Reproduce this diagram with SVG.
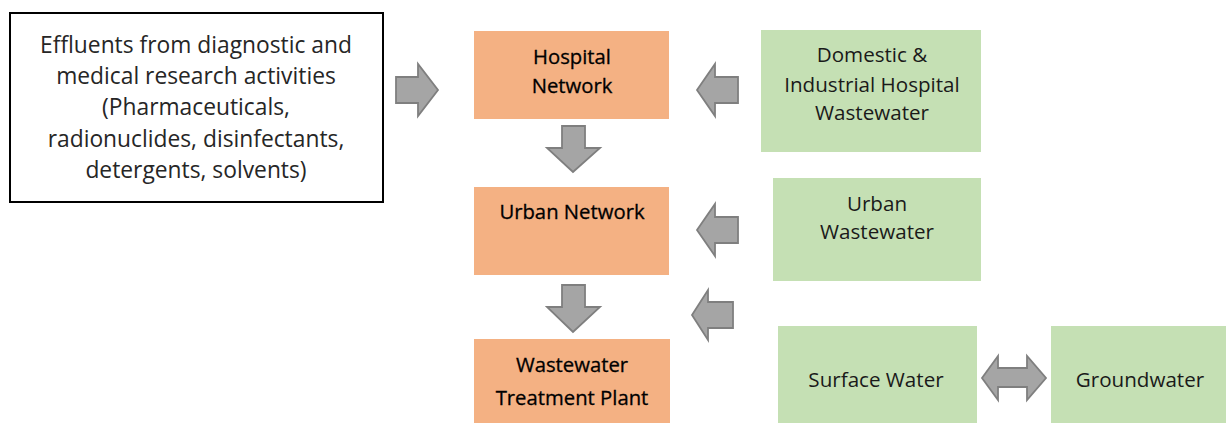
<svg xmlns="http://www.w3.org/2000/svg" width="1226" height="423" viewBox="0 0 1226 423">
  <style>
    .src { fill: #ffffff; stroke: #000000; stroke-width: 2; }
    .net { fill: #F4B183; }
    .ww { fill: #C5E0B4; }
    text { font-family: "Open Sans", "Liberation Sans", sans-serif; text-anchor: middle; }
    .t-src { font-size: 22.8px; fill: #262626; }
    .t-net { font-size: 20.3px; fill: #000000; stroke: #000000; stroke-width: 0.3; }
    .t-ww { font-size: 20.6px; fill: #1a1a1a; }
    .blk { fill: #A5A5A5; stroke: #7F7F7F; stroke-width: 1.8; stroke-linejoin: miter; }
  </style>
  <rect width="1226" height="423" fill="#ffffff"/>

  <g id="effluents">
    <rect class="src" x="10" y="13" width="373" height="189"/>
    <text class="t-src" x="196" y="53">Effluents from diagnostic and</text>
    <text class="t-src" x="196" y="84">medical research activities</text>
    <text class="t-src" x="196" y="115">(Pharmaceuticals,</text>
    <text class="t-src" x="196" y="147">radionuclides, disinfectants,</text>
    <text class="t-src" x="196" y="178">detergents, solvents)</text>
  </g>

  <g id="hospital-network">
    <rect class="net" x="474" y="31" width="195" height="88"/>
    <text class="t-net" x="572" y="64">Hospital</text>
    <text class="t-net" x="572" y="93">Network</text>
  </g>

  <g id="urban-network">
    <rect class="net" x="474" y="187" width="195" height="88"/>
    <text class="t-net" x="572" y="219">Urban Network</text>
  </g>

  <g id="treatment-plant">
    <rect class="net" x="474" y="339" width="196" height="84"/>
    <text class="t-net" x="572" y="372">Wastewater</text>
    <text class="t-net" x="572" y="405">Treatment Plant</text>
  </g>

  <g id="domestic-industrial">
    <rect class="ww" x="761" y="30" width="220" height="122"/>
    <text class="t-ww" x="872" y="62">Domestic &amp;</text>
    <text class="t-ww" x="872" y="92">Industrial Hospital</text>
    <text class="t-ww" x="872" y="120">Wastewater</text>
  </g>

  <g id="urban-wastewater">
    <rect class="ww" x="773" y="178" width="208" height="103"/>
    <text class="t-ww" x="877" y="211">Urban</text>
    <text class="t-ww" x="877" y="239">Wastewater</text>
  </g>

  <g id="surface-water">
    <rect class="ww" x="778" y="326" width="199" height="97"/>
    <text class="t-ww" x="876" y="387">Surface Water</text>
  </g>

  <g id="groundwater">
    <rect class="ww" x="1051" y="326" width="175" height="97"/>
    <text class="t-ww" x="1140" y="387">Groundwater</text>
  </g>

  <g id="connectors">
    <!-- effluents into hospital network -->
    <path class="blk" d="M396,77 H418 V64 L438,90 L418,116 V103 H396 Z"/>
    <!-- hospital network down to urban network -->
    <path class="blk" d="M562,126 H585 V148 H600 L573,172 L547,148 H562 Z"/>
    <!-- urban network down to treatment plant -->
    <path class="blk" d="M562,285 H585 V307 H600 L573,332 L547,307 H562 Z"/>
    <!-- domestic & industrial wastewater into hospital network -->
    <path class="blk" d="M738,77 H715 V64 L697,90 L715,116 V103 H738 Z"/>
    <!-- urban wastewater into urban network -->
    <path class="blk" d="M738,217 H715 V204 L697,230 L715,256 V243 H738 Z"/>
    <!-- surface water towards the network -->
    <path class="blk" d="M733,302 H708 V290 L692,315 L708,340 V328 H733 Z"/>
    <!-- exchange between surface water and groundwater -->
    <path class="blk" d="M982,378 L998,356 V368 H1027 V356 L1046,378 L1027,400 V387 H998 V400 Z"/>
  </g>
</svg>
